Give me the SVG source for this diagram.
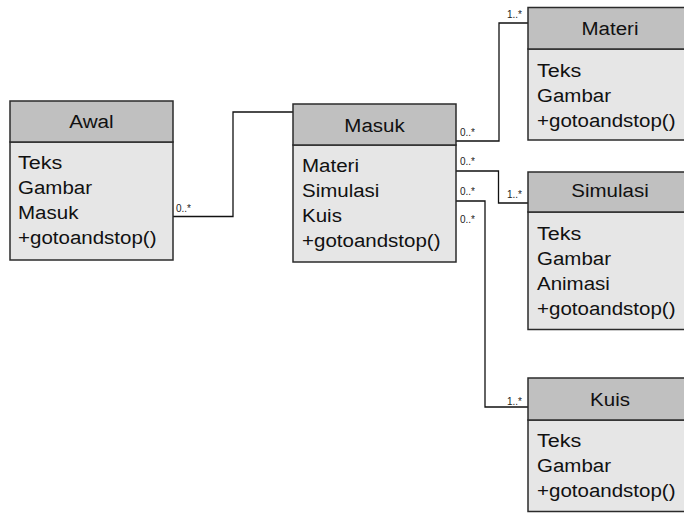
<svg xmlns="http://www.w3.org/2000/svg" width="684" height="513" viewBox="0 0 684 513">
<style>
.hd{fill:#c0c0c0;stroke:#2b2b2b;stroke-width:1.5}
.bd{fill:#e6e6e6;stroke:#2b2b2b;stroke-width:1.5}
.t{font-family:"Liberation Sans",Arial,sans-serif;font-size:18px;fill:#111}
.c{text-anchor:middle}
.ln{fill:none;stroke:#111;stroke-width:1.3}
.m{font-family:"Liberation Sans",Arial,sans-serif;font-size:10px;fill:#222}
</style>
<rect width="684" height="513" fill="#fff"/>
<g id="connectors">
<path class="ln" d="M173,216.5 H233 V112 H293"/>
<path class="ln" d="M456,141 H499 V23 H528"/>
<path class="ln" d="M456,171 H498.5 V203 H528"/>
<path class="ln" d="M456,201 H485 V407 H528"/>
<text class="m" x="176" y="212">0..*</text>
<text class="m" x="460" y="136">0..*</text>
<text class="m" x="460" y="165">0..*</text>
<text class="m" x="460" y="195">0..*</text>
<text class="m" x="460" y="223">0..*</text>
<text class="m" x="507" y="17.5">1..*</text>
<text class="m" x="507" y="198">1..*</text>
<text class="m" x="507" y="405">1..*</text>
</g>
<g id="awal">
<rect class="bd" x="10" y="142" width="163" height="118"/>
<rect class="hd" x="10" y="101" width="163" height="41"/>
<text class="t c" x="91.5" y="128" textLength="44.4" lengthAdjust="spacingAndGlyphs">Awal</text>
<text class="t" x="18" y="169" textLength="44.4" lengthAdjust="spacingAndGlyphs">Teks</text>
<text class="t" x="18" y="194" textLength="74" lengthAdjust="spacingAndGlyphs">Gambar</text>
<text class="t" x="18" y="219" textLength="60.4" lengthAdjust="spacingAndGlyphs">Masuk</text>
<text class="t" x="18" y="243.5" textLength="138.5" lengthAdjust="spacingAndGlyphs">+gotoandstop()</text>
</g>
<g id="masuk">
<rect class="bd" x="293" y="145" width="163" height="117"/>
<rect class="hd" x="293" y="104" width="163" height="41"/>
<text class="t c" x="374.5" y="131.5" textLength="60.4" lengthAdjust="spacingAndGlyphs">Masuk</text>
<text class="t" x="302" y="171.5" textLength="57" lengthAdjust="spacingAndGlyphs">Materi</text>
<text class="t" x="302" y="196.5" textLength="77.4" lengthAdjust="spacingAndGlyphs">Simulasi</text>
<text class="t" x="302" y="221.5" textLength="39.9" lengthAdjust="spacingAndGlyphs">Kuis</text>
<text class="t" x="302" y="246.5" textLength="138.5" lengthAdjust="spacingAndGlyphs">+gotoandstop()</text>
</g>
<g id="materi">
<rect class="bd" x="528" y="49" width="164" height="91"/>
<rect class="hd" x="528" y="7.5" width="164" height="41.5"/>
<text class="t c" x="610" y="35" textLength="57" lengthAdjust="spacingAndGlyphs">Materi</text>
<text class="t" x="537" y="77" textLength="44.4" lengthAdjust="spacingAndGlyphs">Teks</text>
<text class="t" x="537" y="102" textLength="74" lengthAdjust="spacingAndGlyphs">Gambar</text>
<text class="t" x="537" y="127" textLength="138.5" lengthAdjust="spacingAndGlyphs">+gotoandstop()</text>
</g>
<g id="simulasi">
<rect class="bd" x="528" y="212" width="164" height="117.5"/>
<rect class="hd" x="528" y="172" width="164" height="40"/>
<text class="t c" x="610" y="197" textLength="77.4" lengthAdjust="spacingAndGlyphs">Simulasi</text>
<text class="t" x="537" y="240" textLength="44.4" lengthAdjust="spacingAndGlyphs">Teks</text>
<text class="t" x="537" y="265" textLength="74" lengthAdjust="spacingAndGlyphs">Gambar</text>
<text class="t" x="537" y="290" textLength="72.9" lengthAdjust="spacingAndGlyphs">Animasi</text>
<text class="t" x="537" y="315" textLength="138.5" lengthAdjust="spacingAndGlyphs">+gotoandstop()</text>
</g>
<g id="kuis">
<rect class="bd" x="528" y="420" width="164" height="91.5"/>
<rect class="hd" x="528" y="378" width="164" height="42"/>
<text class="t c" x="610" y="406" textLength="39.9" lengthAdjust="spacingAndGlyphs">Kuis</text>
<text class="t" x="537" y="447" textLength="44.4" lengthAdjust="spacingAndGlyphs">Teks</text>
<text class="t" x="537" y="472" textLength="74" lengthAdjust="spacingAndGlyphs">Gambar</text>
<text class="t" x="537" y="497" textLength="138.5" lengthAdjust="spacingAndGlyphs">+gotoandstop()</text>
</g>
</svg>
